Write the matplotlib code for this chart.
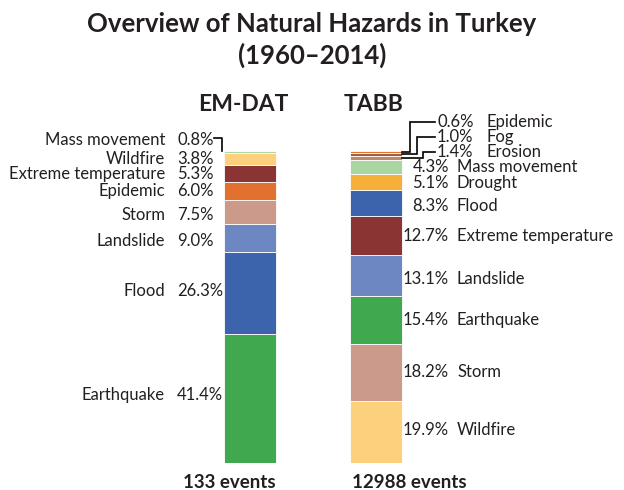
import matplotlib
matplotlib.use("Agg")
import matplotlib.pyplot as plt
import numpy as np

# data (bottom -> top of each stacked bar)
em_names = ["Earthquake", "Flood", "Landslide", "Storm", "Epidemic",
            "Extreme temperature", "Wildfire", "Mass movement"]
em_vals = [41.4, 26.3, 9.0, 7.5, 6.0, 5.3, 3.8, 0.8]

tabb_names = ["Wildfire", "Storm", "Earthquake", "Landslide", "Extreme temperature",
              "Flood", "Drought", "Mass movement", "Erosion", "Fog", "Epidemic"]
tabb_vals = [19.9, 18.2, 15.4, 13.1, 12.7, 8.3, 5.1, 4.3, 1.4, 1.0, 0.6]

sources = ["EM-DAT", "TABB"]
events = ["133 events", "12988 events"]

colors = {
    "Earthquake": "#40a84f",
    "Flood": "#3b64ad",
    "Landslide": "#6d87c2",
    "Storm": "#cc9a8a",
    "Epidemic": "#e2702e",
    "Extreme temperature": "#8b3434",
    "Wildfire": "#fdd07d",
    "Mass movement": "#a9d6a1",
    "Drought": "#f6b03a",
    "Erosion": "#c08a66",
    "Fog": "#9e5f45",
}

plt.rcParams['font.family'] = ['Lato', 'DejaVu Sans']

W, H = 624, 490
fig = plt.figure(figsize=(W / 100, H / 100), dpi=100)
y0, y1 = 463, 151                       # pixel rows of 0% and 100%
ax = fig.add_axes([0, (H - y0) / H, 1, (y0 - y1) / H])
ppu = 126.0                              # pixels per category unit
ax.set_xlim(-250 / ppu, 1 + (W - 376) / ppu)
ax.set_ylim(0, 100)
ax.axis("off")
pyu = (y0 - y1) / 100.0                  # pixels per percent

bw = 52 / ppu


def px(dx):
    return dx / ppu


def py(dy):
    return dy / pyu


def stack(xpos, names, vals):
    bottoms = np.concatenate([[0], np.cumsum(vals)[:-1]])
    ax.bar([xpos] * len(vals), vals, bottom=bottoms, width=bw,
           color=[colors[n] for n in names], edgecolor="white", linewidth=0.6)
    return bottoms + np.array(vals) / 2


fs = 12
tc = "#231f20"

# EM-DAT
cen = stack(0, em_names, em_vals)
em_nudge = {"Mass movement": 12, "Wildfire": 0, "Extreme temperature": -1,
            "Epidemic": 0, "Storm": -3, "Landslide": -3, "Flood": 2, "Earthquake": 3}
for n, v, c in zip(em_names, em_vals, cen):
    yy = c + py(em_nudge[n])
    ax.text(px(165 - 250), yy, n, ha="right", va="center", fontsize=fs, color=tc)
    ax.text(px(177 - 250), yy, f"{v:.1f}%", ha="left", va="center", fontsize=fs, color=tc)
    if n == "Mass movement":
        ax.plot([px(214 - 250), px(222 - 250), px(222 - 250)], [yy + py(2), yy + py(2), 100],
                color="black", lw=1.2, clip_on=False)

# TABB
cen = stack(1, tabb_names, tabb_vals)
tabb_nudge = {"Wildfire": 2, "Storm": 1, "Earthquake": 0, "Landslide": -3,
              "Extreme temperature": -1, "Flood": -3, "Drought": -1, "Mass movement": 0}
leader = {"Erosion": (152, 423), "Fog": (137, 417), "Epidemic": (122, 410)}
for n, v, c in zip(tabb_names, tabb_vals, cen):
    if n in leader:
        ly_px, vx = leader[n]
        yy = (y0 - ly_px) / pyu
        xs = [1 + px(26), 1 + px(vx - 376), 1 + px(vx - 376), 1 + px(435 - 376)]
        ys = [c, c, yy, yy]
        ax.plot(xs, ys, color="black", lw=1.2, clip_on=False, solid_joinstyle="miter")
        ax.text(1 + px(437 - 376), yy, f"{v:.1f}%", ha="left", va="center", fontsize=fs, color=tc)
        ax.text(1 + px(486 - 376), yy, n, ha="left", va="center", fontsize=fs, color=tc)
    else:
        yy = c + py(tabb_nudge[n])
        ax.text(1 + px(449 - 376), yy, f"{v:.1f}%", ha="right", va="center", fontsize=fs, color=tc)
        ax.text(1 + px(457 - 376), yy, n, ha="left", va="center", fontsize=fs, color=tc)

# headers and footers
hx = [px(243 - 250), 1 + px(374 - 376)]
for i, s in enumerate(sources):
    ax.text(hx[i], 100 + py(47), s, ha="center", va="center", fontsize=16.5,
            fontweight="bold", color=tc)
for i, e in enumerate(events):
    if i == 0:
        ax.text(i + bw / 2, -py(19), e, ha="right", va="center", fontsize=13.5,
                fontweight="bold", color=tc)
    else:
        ax.text(i - bw / 2 + px(2), -py(19), e, ha="left", va="center", fontsize=13.5,
                fontweight="bold", color=tc)

fig.text(0.5, 1 - 24 / H, "Overview of Natural Hazards in Turkey", ha="center", va="center",
         fontsize=18.5, fontweight="bold", color=tc)
fig.text(0.5, 1 - 55 / H, "(1960\u20132014)", ha="center", va="center",
         fontsize=18.5, fontweight="bold", color=tc)

fig.savefig("out.png", dpi=100, facecolor="white")
